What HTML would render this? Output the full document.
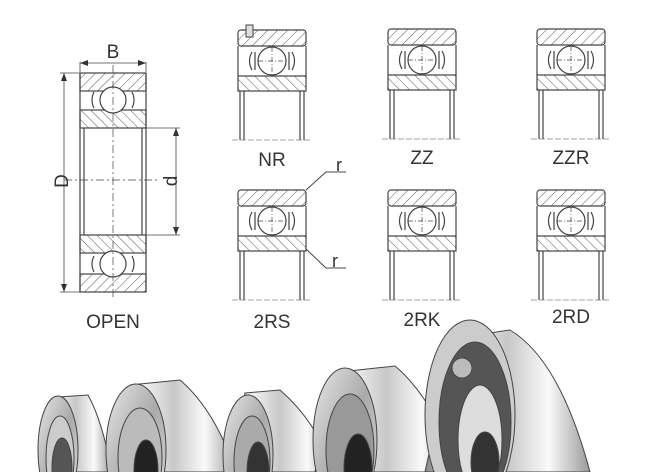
<!DOCTYPE html>
<html><head><meta charset="utf-8"><style>
html,body{margin:0;padding:0;background:#fff;width:664px;height:472px;overflow:hidden}
svg{display:block;overflow:hidden}
text{font-family:"Liberation Sans",sans-serif;fill:#333}
</style></head><body>
<svg width="664" height="472" viewBox="0 0 664 472">
<defs>
<pattern id="h" width="7" height="7" patternUnits="userSpaceOnUse" patternTransform="rotate(45)">
<line x1="0" y1="0" x2="0" y2="7" stroke="#555" stroke-width="1"/>
</pattern>
<pattern id="h2" width="7" height="7" patternUnits="userSpaceOnUse" patternTransform="rotate(-45)">
<line x1="0" y1="0" x2="0" y2="7" stroke="#555" stroke-width="1"/>
</pattern>
<linearGradient id="m" x1="0" x2="1" y1="0" y2="0">
<stop offset="0" stop-color="#888"/><stop offset=".25" stop-color="#f2f2f2"/><stop offset=".5" stop-color="#c8c8c8"/><stop offset=".75" stop-color="#fafafa"/><stop offset="1" stop-color="#999"/>
</linearGradient>
<linearGradient id="fc" x1="0" x2="1" y1="0" y2="1">
<stop offset="0" stop-color="#e8e8e8"/><stop offset=".5" stop-color="#aaa"/><stop offset="1" stop-color="#ddd"/>
</linearGradient>
<g id="sec" stroke="#444" stroke-width="1.2" fill="none">
<rect x="0" y="0" width="68" height="16" rx="3" fill="url(#h)"/>
<rect x="0" y="46" width="68" height="15" fill="url(#h2)"/>
<line x1="0" y1="16" x2="0" y2="46"/><line x1="68" y1="16" x2="68" y2="46"/>
<path d="M14 22 q-5 9 0 18 M54 22 q5 9 0 18 M17 22 v18 M51 22 v18"/>
<circle cx="34" cy="31" r="14" fill="#fff"/>
<line x1="20" y1="31" x2="48" y2="31" stroke-dasharray="5 2 1 2" stroke-width=".7"/>
<line x1="34" y1="17" x2="34" y2="45" stroke-dasharray="5 2 1 2" stroke-width=".7"/>
<line x1="2" y1="61" x2="2" y2="110"/><line x1="6" y1="61" x2="6" y2="110"/>
<line x1="62" y1="61" x2="62" y2="110"/><line x1="66" y1="61" x2="66" y2="110"/>
<line x1="-6" y1="110" x2="74" y2="110" stroke-width=".6" stroke-dasharray="6 2"/>
</g>
</defs>

<g stroke="#444" stroke-width="1.2" fill="none">
<rect x="80" y="73" width="66" height="18" fill="url(#h)"/>
<rect x="80" y="110" width="66" height="18" fill="url(#h2)"/>
<rect x="80" y="235" width="66" height="18" fill="url(#h2)"/>
<rect x="80" y="274" width="66" height="18" fill="url(#h)"/>
<line x1="80" y1="73" x2="80" y2="292"/><line x1="146" y1="73" x2="146" y2="292"/>
<line x1="84" y1="128" x2="84" y2="235"/><line x1="142" y1="128" x2="142" y2="235"/>
<circle cx="113" cy="100" r="13" fill="#fff"/>
<circle cx="113" cy="264" r="13" fill="#fff"/>
<path d="M94 92 q-4 8 0 16 M132 92 q4 8 0 16 M94 256 q-4 8 0 16 M132 256 q4 8 0 16"/>
<line x1="113" y1="65" x2="113" y2="300" stroke-width=".7" stroke-dasharray="8 3 2 3"/>
<line x1="64" y1="180" x2="160" y2="180" stroke-width=".7" stroke-dasharray="8 3 2 3"/>
<line x1="80" y1="62" x2="80" y2="72" stroke-width=".8"/><line x1="146" y1="62" x2="146" y2="72" stroke-width=".8"/>
<line x1="80" y1="63" x2="146" y2="63" stroke-width=".8"/>
<line x1="60" y1="73" x2="80" y2="73" stroke-width=".8"/><line x1="60" y1="292" x2="80" y2="292" stroke-width=".8"/>
<line x1="64" y1="73" x2="64" y2="292" stroke-width=".8"/>
<line x1="146" y1="128" x2="180" y2="128" stroke-width=".8"/><line x1="146" y1="235" x2="180" y2="235" stroke-width=".8"/>
<line x1="176" y1="128" x2="176" y2="235" stroke-width=".8"/>
</g>
<path fill="#333" d="M80 63 l8 -3 v6z M146 63 l-8 -3 v6z M64 73 l-3 8 h6z M64 292 l-3 -8 h6z M176 128 l-3 8 h6z M176 235 l-3 -8 h6z"/>
<text x="113" y="58" font-size="19" text-anchor="middle">B</text>
<text x="61" y="181" font-size="19" text-anchor="middle" transform="rotate(-90 61 181)" dy="7">D</text>
<text x="170" y="181" font-size="19" text-anchor="middle" transform="rotate(-90 170 181)" dy="7">d</text>
<text x="113" y="328" font-size="19" text-anchor="middle">OPEN</text>

<use href="#sec" x="238" y="30"/>
<rect x="246" y="25" width="7" height="12" fill="#ddd" stroke="#444"/>
<use href="#sec" x="388" y="29"/>
<use href="#sec" x="537" y="29"/>
<use href="#sec" x="238" y="190"/>
<use href="#sec" x="388" y="190"/>
<use href="#sec" x="537" y="190"/>
<text x="272" y="166" font-size="19" text-anchor="middle">NR</text>
<text x="422" y="164" font-size="19" text-anchor="middle">ZZ</text>
<text x="571" y="164" font-size="19" text-anchor="middle">ZZR</text>
<text x="272" y="328" font-size="19" text-anchor="middle">2RS</text>
<text x="422" y="326" font-size="19" text-anchor="middle">2RK</text>
<text x="571" y="323" font-size="19" text-anchor="middle">2RD</text>
<text x="336" y="171" font-size="18">r</text>
<text x="332" y="267" font-size="18">r</text>
<path d="M306 190 L326 172 H346 M306 249 L326 268 H346" stroke="#444" fill="none"/>

<!-- photo -->
<g stroke="#444" stroke-width="1">
<!-- 1 -->
<path d="M58 397 L88 395 Q102 420 112 472 L40 472 Z" fill="url(#m)"/>
<ellipse cx="58" cy="450" rx="20" ry="54" fill="url(#fc)"/>
<ellipse cx="60" cy="458" rx="14" ry="42" fill="#ccc"/>
<ellipse cx="62" cy="468" rx="10" ry="30" fill="#555"/>
<!-- 2 -->
<path d="M130 385 L180 380 Q215 410 236 472 L112 472 Z" fill="url(#m)"/>
<ellipse cx="136" cy="450" rx="30" ry="66" fill="url(#fc)"/>
<ellipse cx="140" cy="458" rx="22" ry="50" fill="#bbb"/>
<ellipse cx="146" cy="470" rx="12" ry="30" fill="#222"/>
<!-- 3 -->
<path d="M245 393 L280 390 Q315 420 335 472 L225 472 Z" fill="url(#m)"/>
<ellipse cx="248" cy="455" rx="25" ry="60" fill="url(#fc)"/>
<ellipse cx="252" cy="462" rx="18" ry="46" fill="#aaa"/>
<ellipse cx="258" cy="472" rx="11" ry="30" fill="#333"/>
<!-- 4 -->
<path d="M340 372 L395 366 Q435 400 458 472 L315 472 Z" fill="url(#m)"/>
<ellipse cx="345" cy="440" rx="32" ry="72" fill="url(#fc)"/>
<ellipse cx="350" cy="450" rx="24" ry="56" fill="#999"/>
<ellipse cx="358" cy="468" rx="14" ry="34" fill="#222"/>
<!-- 5 -->
<path d="M455 338 L510 330 Q560 360 590 472 L425 472 Z" fill="url(#m)"/>
<ellipse cx="470" cy="415" rx="45" ry="95" fill="#ccc"/>
<ellipse cx="475" cy="422" rx="36" ry="80" fill="#555"/>
<ellipse cx="480" cy="440" rx="22" ry="55" fill="#ddd"/>
<circle cx="462" cy="368" r="10" fill="#bbb"/>
<ellipse cx="485" cy="462" rx="14" ry="30" fill="#333"/>
</g>
</svg>
</body></html>
